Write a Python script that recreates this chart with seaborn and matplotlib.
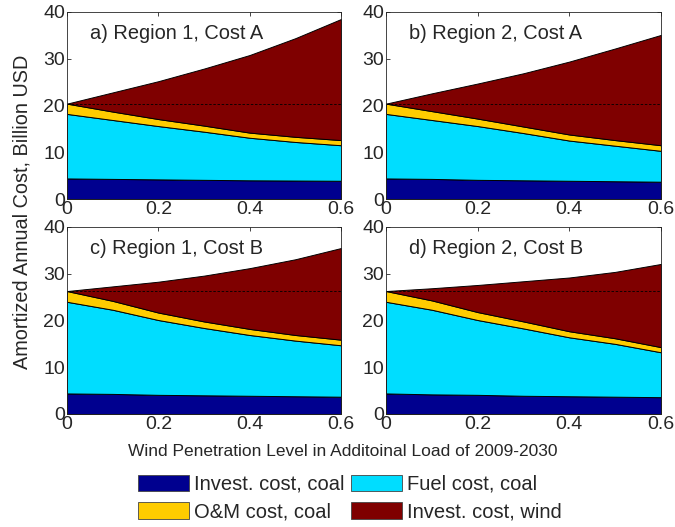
import numpy as np
import pandas as pd
import matplotlib
matplotlib.use("Agg")
import matplotlib.pyplot as plt
import seaborn as sns

# wind penetration level
wind = [0.0, 0.1, 0.2, 0.3, 0.4, 0.5, 0.6]

panels = ["a) Region 1, Cost A", "b) Region 2, Cost A",
          "c) Region 1, Cost B", "d) Region 2, Cost B"]

# upper edge of each stacked layer (billion USD)
top_invest_coal = {
    "a": [4.4, 4.3, 4.2, 4.1, 4.0, 3.95, 3.9],
    "b": [4.4, 4.3, 4.1, 4.0, 3.9, 3.8, 3.7],
    "c": [4.4, 4.3, 4.1, 4.0, 3.9, 3.8, 3.7],
    "d": [4.4, 4.2, 4.1, 3.9, 3.8, 3.7, 3.6],
}
top_fuel_coal = {
    "a": [18.2, 16.9, 15.6, 14.4, 13.1, 12.2, 11.5],
    "b": [18.2, 16.9, 15.6, 14.1, 12.5, 11.4, 10.3],
    "c": [24.0, 22.3, 20.1, 18.4, 16.9, 15.7, 14.7],
    "d": [24.0, 22.3, 20.1, 18.3, 16.4, 15.0, 13.2],
}
top_om_coal = {
    "a": [20.4, 18.7, 17.1, 15.7, 14.2, 13.3, 12.6],
    "b": [20.4, 18.8, 17.2, 15.5, 13.8, 12.6, 11.5],
    "c": [26.3, 24.2, 21.7, 19.8, 18.2, 16.9, 15.9],
    "d": [26.3, 24.3, 21.8, 19.8, 17.7, 16.2, 14.3],
}
top_invest_wind = {
    "a": [20.4, 22.8, 25.2, 27.9, 30.8, 34.4, 38.5],
    "b": [20.4, 22.6, 24.7, 26.9, 29.4, 32.2, 35.1],
    "c": [26.3, 27.3, 28.3, 29.6, 31.2, 33.1, 35.5],
    "d": [26.3, 26.9, 27.6, 28.4, 29.2, 30.4, 32.1],
}

series_names = ["Invest. cost, coal", "Fuel cost, coal",
                "O&M cost, coal", "Invest. cost, wind"]
colors = ["#00008F", "#00DDFF", "#FFCC00", "#7F0000"]

sns.set_theme(style="ticks")
plt.rcParams['font.family'] = ['Liberation Sans', 'DejaVu Sans']
plt.rcParams['xtick.direction'] = 'in'
plt.rcParams['ytick.direction'] = 'in'

fig = plt.figure(figsize=(6.75, 5.27), dpi=100)
W, H = 675, 527
boxes = [(67, 12, 341, 199), (386, 12, 661, 199),
         (67, 227, 341, 414), (386, 227, 661, 414)]

for key, title, (x0, y0, x1, y1) in zip("abcd", panels, boxes):
    ax = fig.add_axes([x0 / W, 1 - y1 / H, (x1 - x0) / W, (y1 - y0) / H])
    t1 = np.array(top_invest_coal[key])
    t2 = np.array(top_fuel_coal[key])
    t3 = np.array(top_om_coal[key])
    t4 = np.array(top_invest_wind[key])
    ax.stackplot(wind, t1, t2 - t1, t3 - t2, t4 - t3, colors=colors,
                 edgecolor="black", linewidth=0.7)
    df = pd.DataFrame({"x": wind, "y": [t4[0]] * len(wind)})
    sns.lineplot(data=df, x="x", y="y", ax=ax, color="black",
                 linestyle=(0, (3, 2)), linewidth=0.6)
    ax.set_xlim(0, 0.6)
    ax.set_ylim(0, 40)
    ax.set_xticks([0, 0.2, 0.4, 0.6])
    ax.set_xticklabels(["0", "0.2", "0.4", "0.6"])
    ax.set_yticks([0, 10, 20, 30, 40])
    ax.tick_params(labelsize=14, top=True, right=True, length=3,
                   width=0.6, pad=1.5)
    for s in ax.spines.values():
        s.set_linewidth(0.6)
    ax.set_xlabel("")
    ax.set_ylabel("")
    ax.text(0.085, 0.885, title, transform=ax.transAxes, fontsize=14.4,
            va="center", ha="left")

fig.text(22 / W, 1 - 212 / H, "Amortized Annual Cost, Billion USD",
         rotation=90, ha="center", va="center", fontsize=14.3)
fig.text(343 / W, 1 - 452 / H,
         "Wind Penetration Level in Additoinal Load of 2009-2030",
         ha="center", va="center", fontsize=12.5)

handles = [plt.Rectangle((0, 0), 1, 1, facecolor=c, edgecolor="#444444",
                         linewidth=0.6) for c in colors]
# legend fills column by column, reorder so rows read as in the original
order = [0, 2, 1, 3]
fig.legend([handles[i] for i in order], [series_names[i] for i in order],
           ncol=2, loc="center", bbox_to_anchor=(350 / W, 1 - 498 / H),
           frameon=False, fontsize=14.5, handlelength=2.5,
           handleheight=0.9, columnspacing=0.35, handletextpad=0.25,
           labelspacing=0.4)

fig.savefig("out.png", dpi=100)
